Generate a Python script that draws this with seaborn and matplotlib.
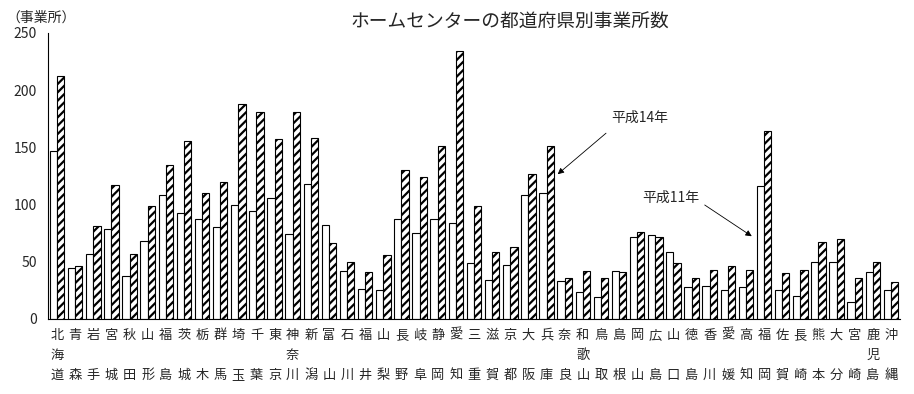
import matplotlib

matplotlib.use("Agg")

import matplotlib.pyplot as plt
import pandas as pd
import seaborn as sns

prefectures = [
    "北海道", "青森", "岩手", "宮城", "秋田", "山形", "福島", "茨城", "栃木", "群馬",
    "埼玉", "千葉", "東京", "神奈川", "新潟", "富山", "石川", "福井", "山梨", "長野",
    "岐阜", "静岡", "愛知", "三重", "滋賀", "京都", "大阪", "兵庫", "奈良", "和歌山",
    "鳥取", "島根", "岡山", "広島", "山口", "徳島", "香川", "愛媛", "高知", "福岡",
    "佐賀", "長崎", "熊本", "大分", "宮崎", "鹿児島", "沖縄",
]
h11 = [
    147, 45, 57, 79, 38, 68, 108, 93, 87, 80,
    100, 94, 106, 74, 118, 82, 42, 26, 25, 87,
    75, 87, 84, 49, 34, 47, 108, 110, 33, 24,
    19, 42, 72, 73, 59, 28, 29, 25, 28, 116,
    25, 20, 50, 50, 15, 41, 25,
]
h14 = [
    212, 46, 81, 117, 57, 99, 135, 156, 110, 120,
    188, 181, 157, 181, 158, 66, 50, 41, 56, 130,
    124, 151, 234, 99, 59, 63, 127, 151, 36, 42,
    36, 41, 76, 72, 49, 36, 43, 46, 43, 164,
    40, 43, 67, 70, 36, 50, 32,
]
years = ["平成11年", "平成14年"]
yticks = [0, 50, 100, 150, 200, 250]


def vertical_label(name):
    chars = list(name)
    if len(chars) == 2:
        chars = [chars[0], "", chars[1]]
    return "\n".join(chars)


df = pd.DataFrame({
    "pref": prefectures * 2,
    "year": [years[0]] * len(prefectures) + [years[1]] * len(prefectures),
    "count": h11 + h14,
})

sns.set_style("white")
plt.rcParams["font.family"] = ["Noto Sans CJK JP", "DejaVu Sans"]
plt.rcParams["hatch.linewidth"] = 1.6

fig = plt.figure(figsize=(9.14, 3.94), dpi=100)
ax = fig.add_axes([48 / 914, 1 - 319 / 394, 852 / 914, 286 / 394])

sns.barplot(
    data=df, x="pref", y="count", hue="year", hue_order=years,
    palette=["white", "white"], edgecolor="black", linewidth=0.8,
    width=0.8, legend=False, ax=ax,
)
for bar in ax.containers[1]:
    bar.set_hatch("////")

ax.set_xlim(-0.5, len(prefectures) - 0.5)
ax.set_ylim(0, 250)
ax.set_yticks(yticks)
ax.set_xticks(range(len(prefectures)))
ax.set_xticklabels([vertical_label(p) for p in prefectures], fontsize=9.5, linespacing=1.72)
ax.set_xticks([i + 0.5 for i in range(len(prefectures) - 1)], minor=True)
ax.tick_params(axis="x", which="major", length=0, pad=7)
ax.tick_params(axis="x", which="minor", direction="in", length=5, width=0.8, color="black")
ax.tick_params(axis="y", direction="in", length=4, width=0.8, color="black", labelsize=10, pad=8)
ax.set_xlabel("")
ax.set_ylabel("")
for side in ["top", "right"]:
    ax.spines[side].set_visible(False)
for side in ["left", "bottom"]:
    ax.spines[side].set_color("black")
    ax.spines[side].set_linewidth(0.8)

fig.text(510 / 914, 1 - 22 / 394, "ホームセンターの都道府県別事業所数",
         ha="center", va="center", fontsize=13.5)
fig.text(6 / 914, 1 - 18 / 394, "（事業所）", ha="left", va="center", fontsize=10)

arrow = dict(arrowstyle="-|>", color="black", lw=0.6, mutation_scale=9)
ax.annotate("", xy=(27.5, 125), xytext=(30.4, 164), arrowprops=arrow)
ax.text(30.55, 176, "平成14年", ha="left", va="center", fontsize=10)
ax.annotate("", xy=(38.45, 71), xytext=(35.6, 101), arrowprops=arrow)
ax.text(32.3, 106, "平成11年", ha="left", va="center", fontsize=10)

fig.savefig("out.png", dpi=100)
